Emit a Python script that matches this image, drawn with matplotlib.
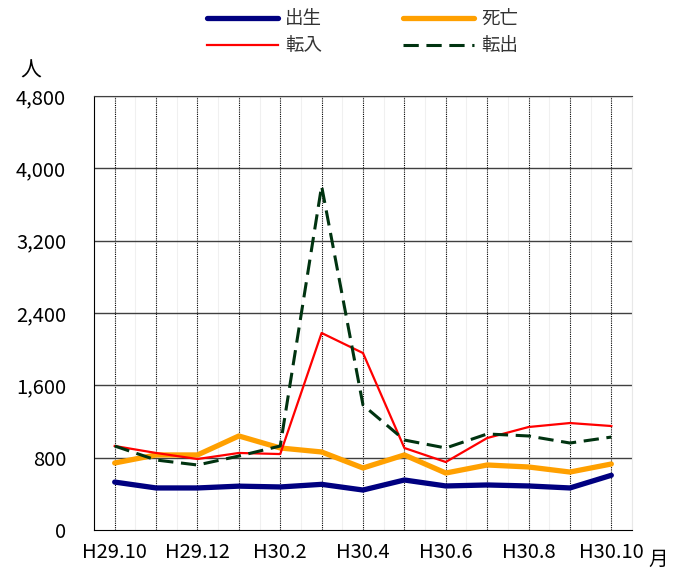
#!/usr/bin/env python3
# -*- coding: utf-8 -*-
"""Monthly population movement chart (births, deaths, move-in, move-out)."""

import matplotlib
matplotlib.use("Agg", force=True)

import matplotlib.pyplot as plt
from matplotlib.ticker import FuncFormatter, MultipleLocator

plt.rcParams["font.family"] = ["Noto Sans CJK JP", "DejaVu Sans"]

# -----------------------------
# Data
# -----------------------------
MONTHS = ["H29.10", "H29.11", "H29.12", "H30.1", "H30.2", "H30.3", "H30.4",
          "H30.5", "H30.6", "H30.7", "H30.8", "H30.9", "H30.10"]

BIRTHS = [530, 465, 465, 485, 476, 505, 442, 553, 487, 498, 487, 465, 605]
DEATHS = [741, 830, 830, 1040, 907, 863, 686, 830, 630, 719, 697, 641, 730]
MOVE_IN = [929, 852, 785, 852, 840, 2179, 1957, 907, 752, 1017, 1139, 1183, 1150]
MOVE_OUT = [929, 774, 719, 818, 929, 3804, 1382, 995, 907, 1062, 1040, 962, 1028]

LABELS = ["出生", "死亡", "転入", "転出"]


def main() -> None:
    W, H = 682, 569
    fig = plt.figure(figsize=(W / 100, H / 100), dpi=100)
    ax = fig.add_axes([94 / W, 39 / H, 538 / W, 434 / H])

    x = list(range(len(MONTHS)))

    # grid: faint lines between months, dotted lines at months
    for i in range(len(MONTHS) + 1):
        ax.axvline(i - 0.5, color="#f0f0f0", lw=0.8, zorder=0)
    for i in x:
        ax.axvline(i, color="black", lw=0.8, ls=(0, (1, 1)), zorder=1)
    for v in range(800, 4801, 800):
        ax.axhline(v, color="#404040", lw=1.0, zorder=1)

    h_birth, = ax.plot(x, BIRTHS, color="#000080", lw=3.8, label=LABELS[0],
                       zorder=3, solid_capstyle="round")
    h_death, = ax.plot(x, DEATHS, color="#FFA000", lw=3.8, label=LABELS[1],
                       zorder=3, solid_capstyle="round")
    h_in, = ax.plot(x, MOVE_IN, color="#FF0000", lw=1.6, label=LABELS[2],
                    zorder=4)
    h_out, = ax.plot(x, MOVE_OUT, color="#003310", lw=2.2, ls=(0, (5, 2.5)),
                     label=LABELS[3], zorder=4)

    ax.set_xlim(-0.5, len(MONTHS) - 0.5)
    ax.set_ylim(0, 4800)
    ax.yaxis.set_major_locator(MultipleLocator(800))
    ax.yaxis.set_major_formatter(FuncFormatter(lambda v, _: f"{int(v):,}"))
    ax.set_xticks(x[::2])
    ax.set_xticklabels(MONTHS[::2])
    ax.tick_params(axis="both", length=0, labelsize=14.5, colors="black")
    ax.tick_params(axis="y", pad=20)
    ax.tick_params(axis="x", pad=9)

    ax.spines["right"].set_color("#e8e8e8")
    ax.spines["top"].set_color("#404040")
    ax.spines["left"].set_color("black")
    ax.spines["bottom"].set_color("black")

    fig.text(31 / W, 1 - 71 / H, "人", fontsize=15, ha="center", va="center")
    fig.text(658 / W, 1 - 559 / H, "月", fontsize=14, ha="center", va="center")

    # column-major fill: row 1 = 出生, 死亡 / row 2 = 転入, 転出
    leg = fig.legend([h_birth, h_in, h_death, h_out],
                     [LABELS[0], LABELS[2], LABELS[1], LABELS[3]],
                     loc="upper left", bbox_to_anchor=(207 / W, 1 - 10 / H),
                     ncol=2, frameon=False, fontsize=13.3, handlelength=3.84,
                     handletextpad=0.38, columnspacing=4.4, labelspacing=0.5,
                     borderpad=0, borderaxespad=0)
    for t in leg.get_texts():
        t.set_color("#333333")

    fig.savefig("out.png", dpi=100)
    plt.close(fig)


if __name__ == "__main__":
    main()
